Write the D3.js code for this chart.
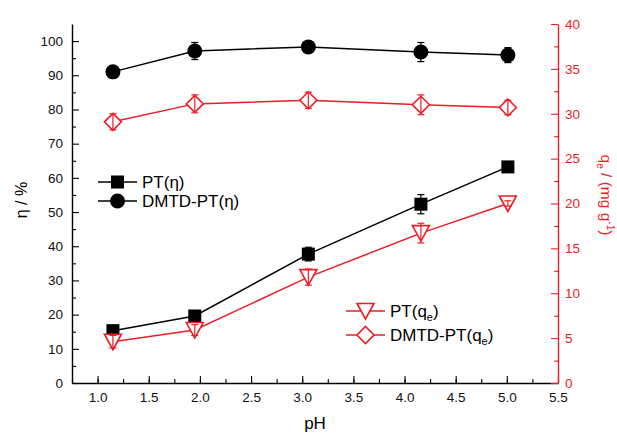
<!DOCTYPE html>
<html>
<head>
<meta charset="utf-8">
<script src="https://cdn.jsdelivr.net/npm/d3@7"></script>
<style>
  body { margin: 0; background: #fff; }
  svg { font-family: "Liberation Sans", Arial, sans-serif; }
</style>
</head>
<body>
<div id="chart"></div>
<script>
// data
const pH = [1.15, 1.95, 3.06, 4.16, 5.01];
const ptEta = [15.3, 19.6, 37.7, 52.3, 63.2];
const ptEtaErr = [1.5, 1.0, 2.0, 2.8, 1.0];
const dmtdEta = [91.0, 97.1, 98.3, 96.8, 95.9];
const dmtdEtaErr = [0.6, 2.5, 1.5, 2.8, 2.2];
const ptQe = [4.6, 5.9, 11.8, 16.7, 20.0];
const ptQeErr = [0.7, 0.6, 0.9, 1.1, 0.3];
const dmtdQe = [29.1, 31.1, 31.5, 31.0, 30.7];
const dmtdQeErr = [0.9, 1.0, 0.9, 1.1, 0.8];

const xTicks = [1.0, 1.5, 2.0, 2.5, 3.0, 3.5, 4.0, 4.5, 5.0, 5.5];
const leftTicks = d3.range(0, 101, 10);
const rightTicks = d3.range(0, 41, 5);

const width = 617, height = 433;
const red = "#ee1c25";

const svg = d3.select("#chart").append("svg")
    .attr("width", width)
    .attr("height", height);

const x = d3.scaleLinear().domain([0.75, 5.5]).range([72, 558]);
const yL = d3.scaleLinear().domain([0, 105]).range([383, 24]);
const yR = d3.scaleLinear().domain([0, 40]).range([383, 24]);

// minor ticks first (no labels)
svg.append("g")
    .attr("transform", "translate(0,383)")
    .call(d3.axisBottom(x).tickValues(d3.range(0.75, 5.51, 0.25)).tickSize(-4).tickFormat(""))
    .call(g => g.select(".domain").remove());
svg.append("g")
    .attr("transform", "translate(72,0)")
    .call(d3.axisLeft(yL).tickValues(d3.range(5, 105, 10)).tickSize(-4).tickFormat(""))
    .call(g => g.select(".domain").remove());
svg.append("g")
    .attr("transform", "translate(558,0)")
    .call(d3.axisRight(yR).tickValues(d3.range(2.5, 40, 5)).tickSize(-4).tickFormat(""))
    .call(g => g.select(".domain").remove())
    .call(g => g.selectAll("line").attr("stroke", red));

// main axes
const xAxis = svg.append("g")
    .attr("transform", "translate(0,383)")
    .call(d3.axisBottom(x).tickValues(xTicks).tickSize(-7).tickSizeOuter(0).tickPadding(9).tickFormat(d3.format(".1f")));

const leftAxis = svg.append("g")
    .attr("transform", "translate(72,0)")
    .call(d3.axisLeft(yL).tickValues(leftTicks).tickSize(-7).tickSizeOuter(0).tickPadding(9));

const rightAxis = svg.append("g")
    .attr("transform", "translate(558,0)")
    .call(d3.axisRight(yR).tickValues(rightTicks).tickSize(-7).tickSizeOuter(0).tickPadding(7));

svg.selectAll(".tick text").attr("font-size", 13.5).attr("fill", "#111")
    .style("font-family", "'Liberation Sans', Arial, sans-serif");
svg.selectAll(".domain").attr("stroke-width", 1.4);
svg.selectAll(".tick line").attr("stroke-width", 1.1);
rightAxis.selectAll(".domain, .tick line").attr("stroke", red);
rightAxis.selectAll(".tick text").attr("fill", red);

// axis titles
svg.append("text")
    .attr("x", 315).attr("y", 429)
    .attr("text-anchor", "middle")
    .attr("font-size", 17)
    .text("pH");

svg.append("text")
    .attr("transform", "translate(27,200) rotate(-90)")
    .attr("text-anchor", "middle")
    .attr("font-size", 16)
    .text("η / %");

const rTitle = svg.append("text")
    .attr("transform", "translate(601,195) rotate(90)")
    .attr("text-anchor", "middle")
    .attr("font-size", 15.5)
    .attr("fill", red);
rTitle.append("tspan").text("q");
rTitle.append("tspan").attr("font-size", 10).attr("dy", 4).text("e");
rTitle.append("tspan").attr("dy", -4).text(" / (mg g");
rTitle.append("tspan").attr("font-size", 10).attr("dy", -6).text("-1");
rTitle.append("tspan").attr("dy", 6).text(")");

// series helpers
const series = [
    { vals: ptEta, err: ptEtaErr, y: yL, color: "#000", shape: "square" },
    { vals: dmtdEta, err: dmtdEtaErr, y: yL, color: "#000", shape: "circle" },
    { vals: ptQe, err: ptQeErr, y: yR, color: red, shape: "triangle" },
    { vals: dmtdQe, err: dmtdQeErr, y: yR, color: red, shape: "diamond" }
];

function marker(g, shape, color) {
    if (shape === "square") {
        g.append("rect").attr("x", -6.5).attr("y", -6.5).attr("width", 13).attr("height", 13).attr("fill", color);
    } else if (shape === "circle") {
        g.append("circle").attr("r", 7.5).attr("fill", color);
    } else if (shape === "triangle") {
        g.append("path").attr("d", "M-8.5,-7.5 L8.5,-7.5 L0,8 Z")
            .attr("fill", "#fff").attr("stroke", color).attr("stroke-width", 1.6);
    } else {
        g.append("path").attr("d", "M0,-8.5 L8.5,0 L0,8.5 L-8.5,0 Z")
            .attr("fill", "#fff").attr("stroke", color).attr("stroke-width", 1.6);
    }
}

series.forEach(s => {
    const line = d3.line().x((d, i) => x(pH[i])).y(d => s.y(d));
    svg.append("path")
        .datum(s.vals)
        .attr("d", line)
        .attr("fill", "none")
        .attr("stroke", s.color)
        .attr("stroke-width", 1.5);

    const pts = svg.append("g").selectAll("g")
        .data(s.vals)
        .enter().append("g")
        .attr("transform", (d, i) => `translate(${x(pH[i])},${s.y(d)})`);

    const drawErr = () => {
        const eb = svg.append("g").attr("stroke", s.color).attr("stroke-width", 1.2);
        s.vals.forEach((d, i) => {
            const cx = x(pH[i]);
            const y1 = s.y(d + s.err[i]), y2 = s.y(d - s.err[i]);
            eb.append("line").attr("x1", cx).attr("x2", cx).attr("y1", y1).attr("y2", y2);
            eb.append("line").attr("x1", cx - 3.5).attr("x2", cx + 3.5).attr("y1", y1).attr("y2", y1);
            eb.append("line").attr("x1", cx - 3.5).attr("x2", cx + 3.5).attr("y1", y2).attr("y2", y2);
        });
    };

    if (s.color === "#000") drawErr();
    pts.each(function() { marker(d3.select(this), s.shape, s.color); });
    if (s.color !== "#000") drawErr();
});

// legends
function legendItem(lx, ly, s, build) {
    svg.append("line")
        .attr("x1", lx).attr("x2", lx + 39).attr("y1", ly).attr("y2", ly)
        .attr("stroke", s.color).attr("stroke-width", 1.5);
    marker(svg.append("g").attr("transform", `translate(${lx + 19.5},${ly})`), s.shape, s.color);
    const t = svg.append("text").attr("x", lx + 44).attr("y", ly + 6).attr("font-size", 17);
    build(t);
}

legendItem(98, 182, series[0], t => t.text("PT(η)"));
legendItem(98, 201, series[1], t => t.text("DMTD-PT(η)"));
legendItem(346, 311, series[2], t => {
    t.append("tspan").text("PT(q");
    t.append("tspan").attr("font-size", 11).attr("dy", 4).text("e");
    t.append("tspan").attr("dy", -4).text(")");
});
legendItem(346, 335, series[3], t => {
    t.append("tspan").text("DMTD-PT(q");
    t.append("tspan").attr("font-size", 11).attr("dy", 4).text("e");
    t.append("tspan").attr("dy", -4).text(")");
});
</script>
</body>
</html>
